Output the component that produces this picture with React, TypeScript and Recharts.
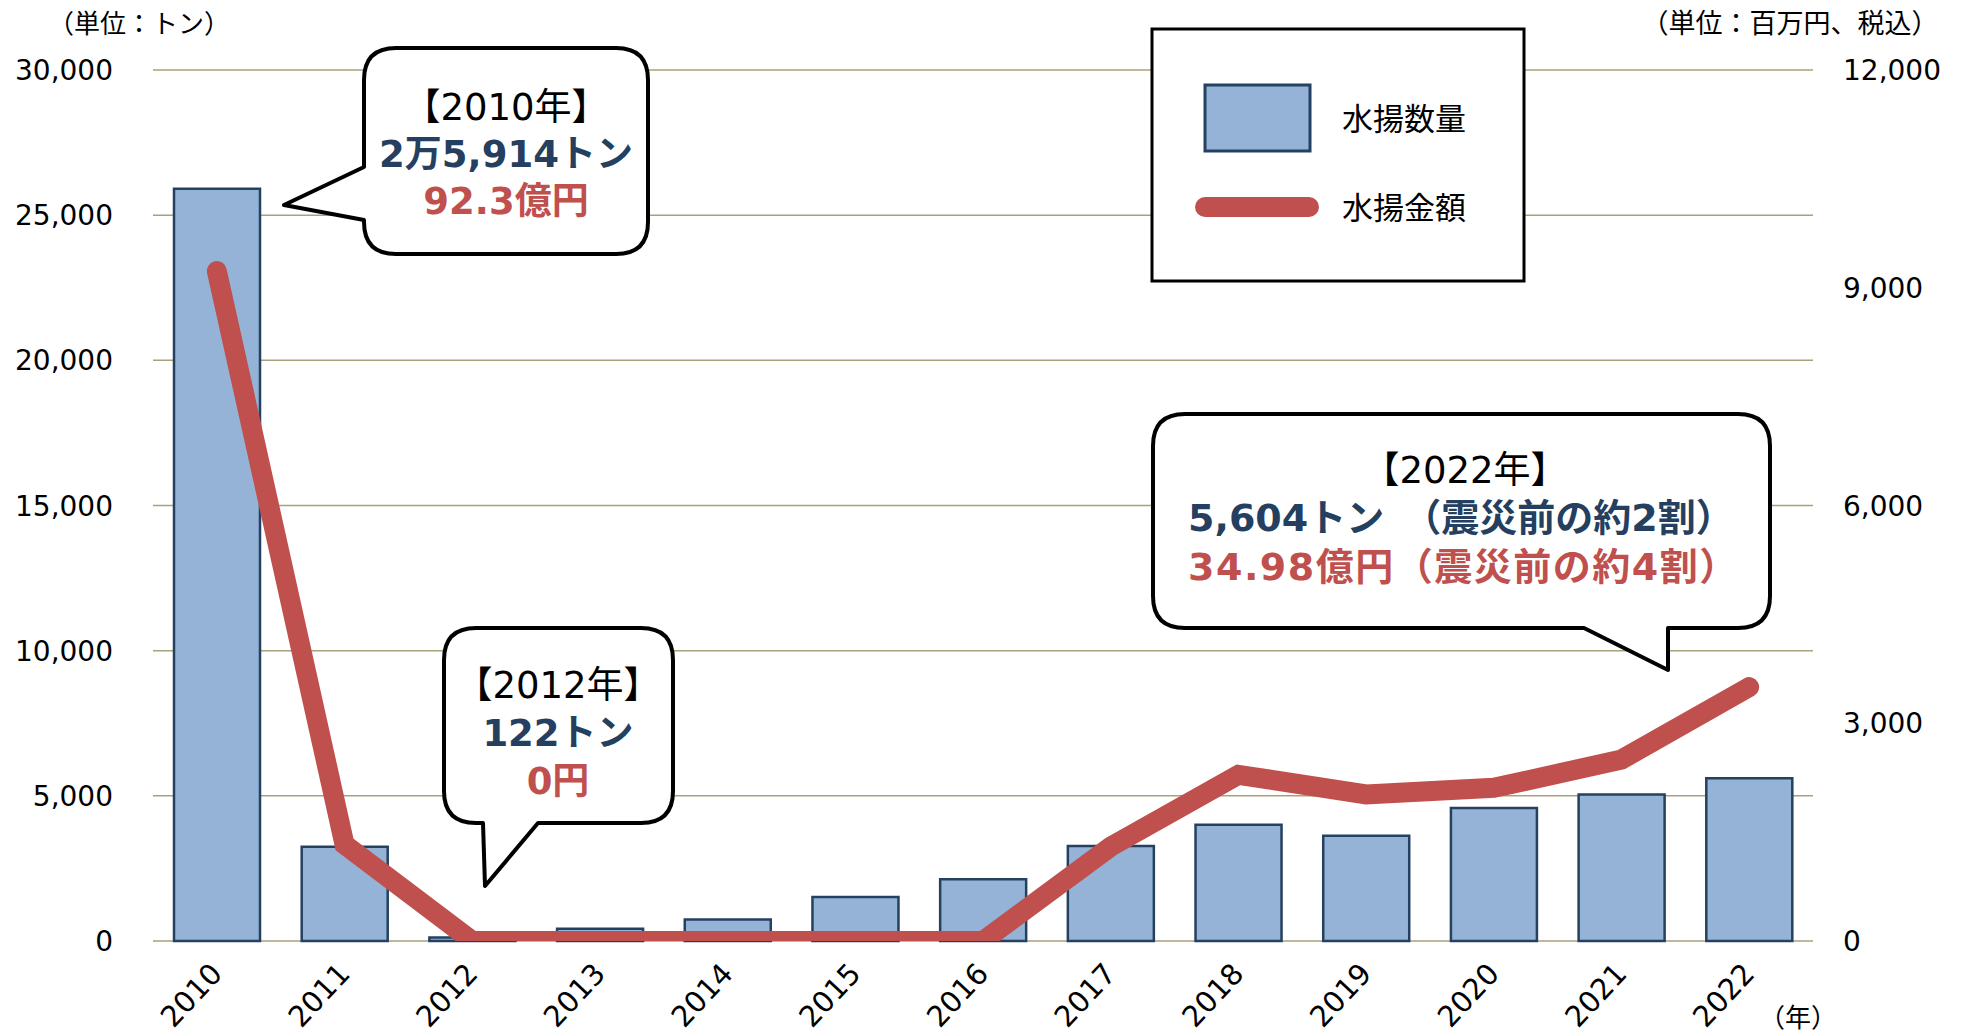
import { ComposedChart, Bar, Line, XAxis, YAxis, CartesianGrid } from 'recharts'

// 年別の水揚数量（トン）と水揚金額（百万円、税込）
const years = ['2010', '2011', '2012', '2013', '2014', '2015', '2016', '2017', '2018', '2019', '2020', '2021', '2022']
const landingVolume = [25914, 3250, 122, 420, 740, 1515, 2130, 3275, 4000, 3625, 4580, 5045, 5604]
const landingValue = [9230, 1330, 0, 0, 0, 0, 0, 1300, 2290, 2020, 2110, 2500, 3498]

const volumeTicks = [0, 5000, 10000, 15000, 20000, 25000, 30000]
const valueTicks = [0, 3000, 6000, 9000, 12000]

const data = years.map((year, i) => ({
  year,
  volume: landingVolume[i],
  value: landingValue[i],
}))

const FONT = "'DejaVu Sans', 'Noto Sans CJK JP', sans-serif"
const BLUE_TEXT = '#243F60'
const RED = '#C0504D'

const fmt = (v: number) => v.toLocaleString('en-US')

function LeftTick({ y, payload }: any) {
  return (
    <text x={113} y={y} dy={10} textAnchor="end" fontSize={28} fontFamily={FONT} fill="#000">
      {fmt(payload.value)}
    </text>
  )
}

function RightTick({ y, payload }: any) {
  return (
    <text x={1843} y={y} dy={10} textAnchor="start" fontSize={28} fontFamily={FONT} fill="#000">
      {fmt(payload.value)}
    </text>
  )
}

function YearTick({ x, payload }: any) {
  const tx = x + 7
  const ty = 975
  return (
    <text
      x={tx}
      y={ty}
      textAnchor="end"
      fontSize={29}
      fontFamily={FONT}
      fill="#000"
      transform={`rotate(-47, ${tx}, ${ty})`}
    >
      {payload.value}
    </text>
  )
}

// rounded box with a pointed tail; tail is a list of 3 points inserted on an edge
function boxPath(x1: number, y1: number, x2: number, y2: number, r: number, edge: 'left' | 'bottom', tail: number[][]) {
  const p: string[] = []
  p.push(`M ${x1 + r} ${y1}`)
  p.push(`L ${x2 - r} ${y1}`)
  p.push(`Q ${x2} ${y1} ${x2} ${y1 + r}`)
  p.push(`L ${x2} ${y2 - r}`)
  p.push(`Q ${x2} ${y2} ${x2 - r} ${y2}`)
  if (edge === 'bottom') tail.forEach(([tx, ty]) => p.push(`L ${tx} ${ty}`))
  p.push(`L ${x1 + r} ${y2}`)
  p.push(`Q ${x1} ${y2} ${x1} ${y2 - r}`)
  if (edge === 'left') tail.forEach(([tx, ty]) => p.push(`L ${tx} ${ty}`))
  p.push(`L ${x1} ${y1 + r}`)
  p.push(`Q ${x1} ${y1} ${x1 + r} ${y1}`)
  p.push('Z')
  return p.join(' ')
}

function Overlay() {
  return (
    <svg width={1964} height={1035} style={{ position: 'absolute', left: 0, top: 0, pointerEvents: 'none' }}>
      {/* units */}
      <text x={139} y={33} textAnchor="middle" fontSize={26} fontFamily={FONT}>（単位：トン）</text>
      <text x={1790} y={33} textAnchor="middle" fontSize={27} fontFamily={FONT}>（単位：百万円、税込）</text>
      <text x={1798} y={1027} textAnchor="middle" fontSize={26} fontFamily={FONT}>（年）</text>

      {/* legend */}
      <rect x={1152} y={29} width={372} height={252} fill="#fff" stroke="#000" strokeWidth={3} />
      <rect x={1205} y={85} width={105} height={66} fill="#95B3D7" stroke="#254061" strokeWidth={3} />
      <line x1={1205} y1={207} x2={1309} y2={207} stroke={RED} strokeWidth={20} strokeLinecap="round" />
      <text x={1342} y={130} fontSize={31} fontFamily={FONT}>水揚数量</text>
      <text x={1342} y={219} fontSize={31} fontFamily={FONT}>水揚金額</text>

      {/* 2010 callout */}
      <path
        d={boxPath(364, 48, 648, 254, 32, 'left', [[364, 220], [284, 205], [364, 167]])}
        fill="#fff" stroke="#000" strokeWidth={4} strokeLinejoin="round"
      />
      <text x={506} y={120} textAnchor="middle" fontSize={37} fontFamily={FONT}>【2010年】</text>
      <text x={506} y={167} textAnchor="middle" fontSize={37} fontWeight="bold" fontFamily={FONT} fill={BLUE_TEXT}>2万5,914トン</text>
      <text x={506} y={214} textAnchor="middle" fontSize={37} fontWeight="bold" fontFamily={FONT} fill={RED}>92.3億円</text>

      {/* 2012 callout */}
      <path
        d={boxPath(444, 628, 673, 823, 32, 'bottom', [[538, 823], [485, 886], [483, 823]])}
        fill="#fff" stroke="#000" strokeWidth={4} strokeLinejoin="round"
      />
      <text x={558} y={698} textAnchor="middle" fontSize={37} fontFamily={FONT}>【2012年】</text>
      <text x={558} y={746} textAnchor="middle" fontSize={37} fontWeight="bold" fontFamily={FONT} fill={BLUE_TEXT}>122トン</text>
      <text x={558} y={794} textAnchor="middle" fontSize={37} fontWeight="bold" fontFamily={FONT} fill={RED}>0円</text>

      {/* 2022 callout */}
      <path
        d={boxPath(1153, 414, 1770, 628, 32, 'bottom', [[1668, 628], [1668, 670], [1584, 628]])}
        fill="#fff" stroke="#000" strokeWidth={4} strokeLinejoin="round"
      />
      <text x={1465} y={483} textAnchor="middle" fontSize={37} fontFamily={FONT}>【2022年】</text>
      <text x={1188} y={531} fontSize={38} fontWeight="bold" fontFamily={FONT} fill={BLUE_TEXT}>5,604トン　（震災前の約2割）</text>
      <text x={1188} y={580} fontSize={38} fontWeight="bold" fontFamily={FONT} fill={RED} letterSpacing={1.5}>34.98億円（震災前の約4割）</text>
    </svg>
  )
}

export default function App() {
  return (
    <div style={{ position: 'absolute', left: 0, top: 0, width: 1964, height: 1035, background: '#fff' }}>
      <ComposedChart width={1964} height={1035} data={data} margin={{ top: 70, right: 0, bottom: 0, left: 0 }}>
        <CartesianGrid vertical={false} stroke="#A8A27A" strokeWidth={1.5} yAxisId="left" />
        <XAxis
          dataKey="year"
          height={94}
          axisLine={false}
          tickLine={false}
          interval={0}
          tick={<YearTick />}
        />
        <YAxis
          yAxisId="left"
          width={153}
          domain={[0, 30000]}
          ticks={volumeTicks}
          axisLine={false}
          tickLine={false}
          tick={<LeftTick />}
        />
        <YAxis
          yAxisId="right"
          orientation="right"
          width={151}
          domain={[0, 12000]}
          ticks={valueTicks}
          allowDataOverflow
          axisLine={false}
          tickLine={false}
          tick={<RightTick />}
        />
        <Bar
          yAxisId="left"
          dataKey="volume"
          barSize={86}
          fill="#95B3D7"
          stroke="#254061"
          strokeWidth={2.5}
          isAnimationActive={false}
        />
        <Line
          yAxisId="right"
          type="linear"
          dataKey="value"
          stroke={RED}
          strokeWidth={20}
          strokeLinecap="round"
          dot={false}
          activeDot={false}
          isAnimationActive={false}
        />
      </ComposedChart>
      <Overlay />
    </div>
  )
}
